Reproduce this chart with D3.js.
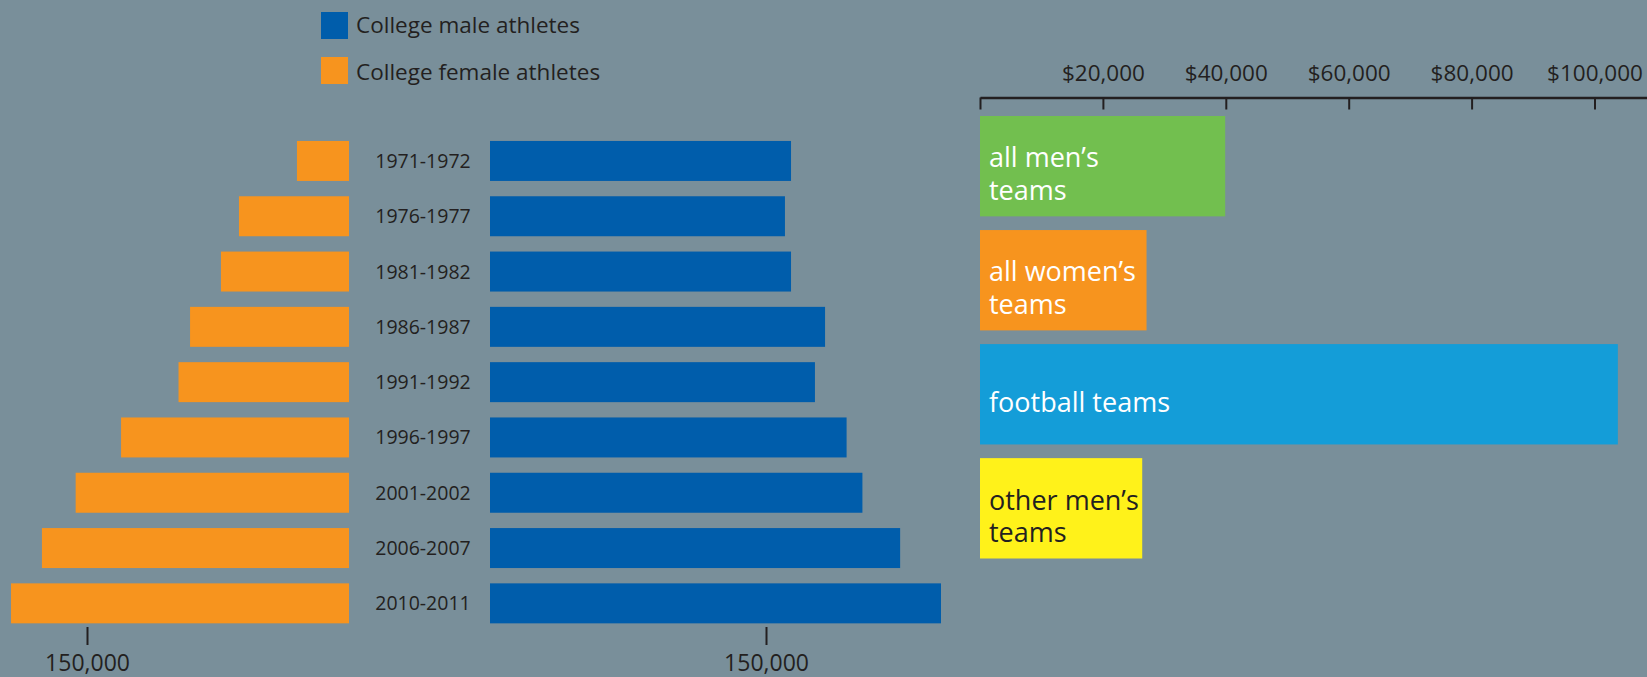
<!DOCTYPE html>
<html>
<head>
<meta charset="utf-8">
<script src="https://cdn.jsdelivr.net/npm/d3@7"></script>
<style>
  html, body { margin: 0; padding: 0; background: #798f9a; }
  svg { display: block; font-family: 'Open Sans', sans-serif; }
</style>
</head>
<body>
<svg></svg>
<script>
// athletes per season
const seasons = ['1971-1972', '1976-1977', '1981-1982', '1986-1987', '1991-1992',
    '1996-1997', '2001-2002', '2006-2007', '2010-2011'];
const femaleAthletes = [29800, 63000, 73300, 91000, 97600, 130500, 156500, 175800, 193500];
const maleAthletes = [163600, 160300, 163600, 182100, 176600, 193800, 202400, 222900, 245100];
const athleteTicks = [150000];

// spending per athlete
const teamGroups = ['all men’s teams', 'all women’s teams', 'football teams', 'other men’s teams'];
const teamLabelLines = [['all men’s', 'teams'], ['all women’s', 'teams'], ['football teams'], ['other men’s', 'teams']];
const teamSpending = [39900, 27100, 103800, 26400];
const spendingTicks = [0, 20000, 40000, 60000, 80000, 100000];

const legendItems = ['College male athletes', 'College female athletes'];

const svgWidth = 1647;
const svgHeight = 677;
const textColor = '#231f20';
const maleColor = '#005dab';
const femaleColor = '#f7941e';
const teamColors = ['#72bf4f', '#f7941e', '#149dd8', '#fff21a'];
const teamTextColors = ['#fff', '#fff', '#fff', textColor];

const svg = d3.select('svg')
    .attr('width', svgWidth)
    .attr('height', svgHeight);

// legend
const legend = svg.append('g');
legendItems.forEach((name, i) => {
    legend.append('rect')
        .attr('x', 321)
        .attr('y', 12 + i * 45)
        .attr('width', 27)
        .attr('height', 27)
        .attr('fill', i === 0 ? maleColor : femaleColor);
    legend.append('text')
        .attr('x', 356)
        .attr('y', 33 + i * 47)
        .attr('fill', textColor)
        .attr('font-size', '22.5px')
        .text(name);
});

// left: pyramid of athletes
const yScale = d3.scaleBand()
    .domain(seasons)
    .range([133.3, 631])
    .paddingInner(0.277)
    .paddingOuter(0.1385);

const xFemale = d3.scaleLinear()
    .domain([0, 150000])
    .range([349, 87]);

const xMale = d3.scaleLinear()
    .domain([0, 150000])
    .range([490, 766]);

svg.append('g').selectAll('rect')
    .data(seasons)
    .enter().append('rect')
    .attr('x', (d, i) => xFemale(femaleAthletes[i]))
    .attr('y', d => yScale(d))
    .attr('width', (d, i) => xFemale(0) - xFemale(femaleAthletes[i]))
    .attr('height', yScale.bandwidth())
    .attr('fill', femaleColor);

svg.append('g').selectAll('rect')
    .data(seasons)
    .enter().append('rect')
    .attr('x', xMale(0))
    .attr('y', d => yScale(d))
    .attr('width', (d, i) => xMale(maleAthletes[i]) - xMale(0))
    .attr('height', yScale.bandwidth())
    .attr('fill', maleColor);

svg.append('g').selectAll('text')
    .data(seasons)
    .enter().append('text')
    .attr('x', 423)
    .attr('y', d => yScale(d) + yScale.bandwidth() / 2)
    .attr('dy', '0.36em')
    .attr('text-anchor', 'middle')
    .attr('fill', textColor)
    .attr('font-size', '19.5px')
    .text(d => d);

const countAxis = scale => d3.axisBottom(scale)
    .tickValues(athleteTicks)
    .tickSize(18)
    .tickPadding(10)
    .tickFormat(d3.format(','));

[xFemale, xMale].forEach(scale => {
    const g = svg.append('g')
        .attr('transform', 'translate(0, 627)')
        .call(countAxis(scale));
    g.select('.domain').remove();
    g.selectAll('line').attr('stroke', textColor).attr('stroke-width', 2);
    g.selectAll('text')
        .attr('fill', textColor)
        .attr('font-size', '23px')
        .attr('font-family', 'Open Sans, sans-serif');
});

// right: spending per athlete
const xSpend = d3.scaleLinear()
    .domain([0, 108700])
    .range([980, 980 + 108700 * 0.006145]);

const ySpend = d3.scaleBand()
    .domain(teamGroups)
    .range([116, 558.5])
    .paddingInner(0.12);

const spendAxis = svg.append('g')
    .attr('transform', 'translate(0, 97.5)')
    .call(d3.axisTop(xSpend)
        .tickValues(spendingTicks)
        .tickSizeInner(-12)
        .tickSizeOuter(0)
        .tickPadding(17)
        .tickFormat(d => d === 0 ? '' : '$' + d3.format(',')(d)));
spendAxis.select('.domain').attr('stroke', textColor).attr('stroke-width', 2.5);
spendAxis.selectAll('line').attr('stroke', textColor).attr('stroke-width', 2);
spendAxis.selectAll('text')
    .attr('fill', textColor)
    .attr('font-size', '22.5px')
    .attr('font-family', 'Open Sans, sans-serif');

svg.append('g').selectAll('rect')
    .data(teamGroups)
    .enter().append('rect')
    .attr('x', xSpend(0))
    .attr('y', d => ySpend(d))
    .attr('width', (d, i) => xSpend(teamSpending[i]) - xSpend(0))
    .attr('height', ySpend.bandwidth())
    .attr('fill', (d, i) => teamColors[i]);

// one text per label line, stacked under the bar middle
teamGroups.forEach((d, i) => {
    const lines = teamLabelLines[i];
    const mid = ySpend(d) + ySpend.bandwidth() / 2 + 17.5;
    svg.append('g').selectAll('text')
        .data(lines)
        .enter().append('text')
        .attr('x', xSpend(0) + 9)
        .attr('y', (t, j) => mid + (j - (lines.length - 1) / 2) * 32.5)
        .attr('fill', teamTextColors[i])
        .attr('font-size', '27px')
        .text(t => t);
});
</script>
</body>
</html>
